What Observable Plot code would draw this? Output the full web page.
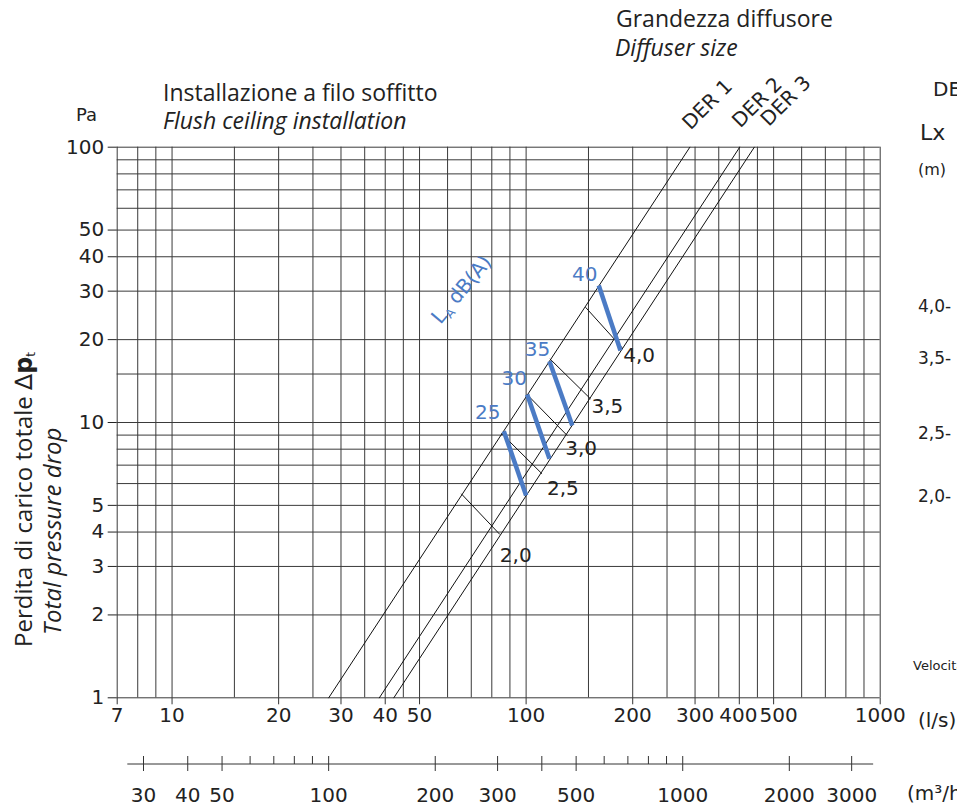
<!DOCTYPE html>
<html>
<head>
<meta charset="utf-8">
<script src="https://cdn.jsdelivr.net/npm/d3@7"></script>
<script src="https://cdn.jsdelivr.net/npm/@observablehq/plot@0.6"></script>
<style>
  html, body { margin: 0; padding: 0; background: white; }
  #chart { width: 957px; height: 809px; overflow: hidden; }
</style>
</head>
<body>
<div id="chart"></div>
<script>
// ---- data ----
const xGrid = [7,8,9,10,15,20,25,30,35,40,45,50,60,70,80,90,100,150,200,250,300,350,400,450,500,600,700,800,900,1000];
const yGrid = [1,2,3,4,5,6,7,8,9,10,15,20,30,40,50,60,70,80,90,100];
const xTicks = [7,10,20,30,40,50,100,200,300,400,500,1000];
const yTicks = [1,2,3,4,5,10,20,30,40,50,100];

const m3hMajor = [30,40,50,100,200,300,400,500,1000,2000,3000];
const m3hMinor = [60,70,80,90,600,700,800,900];
const m3hLabels = [30,40,50,100,200,300,500,1000,2000,3000];
const m3hAxisRange = [27, 3450];

const derNames = ["DER 1","DER 2","DER 3"];
const derQat1Pa = [27.7, 38.5, 42.3];      // l/s at 1 Pa
const derQat100Pa = [290, 401, 441];       // l/s at 100 Pa

const throwLabels = ["2,0","2,5","3,0","3,5","4,0"];
const throwStartQ = [65.6, 85.2, 100.6, 116.7, 147.1];
const throwStartP = [5.51, 9.12, 12.64, 17.03, 26.23];
const throwEndQ   = [84.3, 110.9, 130.6, 152.0, 186.8];
const throwEndP   = [3.92, 6.51, 8.97, 12.19, 18.67];

const noiseLevels = [25, 30, 35, 40];
const noiseStartQ = [86.5, 100.7, 116.4, 160.4];
const noiseStartP = [9.30, 12.64, 16.70, 31.45];
const noiseEndQ   = [100.0, 116.4, 135.0, 184.7];
const noiseEndP   = [5.43, 7.38, 9.75, 18.26];

const laLabelAt = {q: 57.5, p: 22.5};

// ---- tables ----
const derRows = derNames.flatMap((n, i) => [
  {name: n, q: derQat1Pa[i], p: 1},
  {name: n, q: derQat100Pa[i], p: 100}
]);
const throwRows = throwLabels.map((t, i) => ({t, q1: throwStartQ[i], p1: throwStartP[i], q2: throwEndQ[i], p2: throwEndP[i]}));
const noiseRows = noiseLevels.map((n, i) => ({n, q1: noiseStartQ[i], p1: noiseStartP[i], q2: noiseEndQ[i], p2: noiseEndP[i]}));

const BLUE = "#4b7bc5";
const INK = "#222";
const FRAME_H = 809 - 146.7 - 111.7;

// label offsets (screen px)
const throwDx = [0, 5, -2, 1, 1];
const throwDy = [21, 15, 13, 8, 8];
const noiseDx = [-16, -13, -12, -14];
const noiseDy = [-19, -16, -12, -11];
const derDx = [-4, -4, 10];
const derDy = [-21, -23, -24.5];
const xLabelDx = v => (v === 500 ? 5 : v === 400 ? -1 : 0);

const marks = [
  Plot.ruleX(xGrid, {stroke: "#3a3a3a", strokeWidth: 1}),
  Plot.ruleY(yGrid, {stroke: "#3a3a3a", strokeWidth: 1}),
  // x axis (l/s): ticks below the frame
  Plot.ruleX(xTicks, {insetTop: FRAME_H, insetBottom: -7, stroke: "#333"}),
  Plot.axisY(yTicks, {tickSize: 9, tickPadding: 4, tickFormat: d => String(d), label: null, fontSize: 20, fill: INK}),
  Plot.line(derRows, {x: "q", y: "p", z: "name", stroke: "#111", strokeWidth: 1}),
  Plot.link(throwRows, {x1: "q1", y1: "p1", x2: "q2", y2: "p2", stroke: "#111", strokeWidth: 1}),
  Plot.link(noiseRows, {x1: "q1", y1: "p1", x2: "q2", y2: "p2", stroke: BLUE, strokeWidth: 4.5})
];
// x tick labels
xTicks.forEach(v => {
  marks.push(Plot.text([v], {x: d => d, text: d => String(d), frameAnchor: "bottom", dy: 24, dx: xLabelDx(v), fontSize: 20, fill: INK}));
});
throwRows.forEach((r, i) => {
  marks.push(Plot.text([r], {x: "q2", y: "p2", text: "t", textAnchor: "start", dx: throwDx[i], dy: throwDy[i], fontSize: 20, fill: INK}));
});
noiseRows.forEach((r, i) => {
  marks.push(Plot.text([r], {x: "q1", y: "p1", text: d => String(d.n), dx: noiseDx[i], dy: noiseDy[i], fontSize: 20, fill: BLUE}));
});
derNames.forEach((n, i) => {
  marks.push(Plot.text([{n, q: derQat100Pa[i], p: 100}], {x: "q", y: "p", text: "n", rotate: -45, textAnchor: "start", dx: derDx[i], dy: derDy[i], fontSize: 20, fill: INK}));
});

const plot = Plot.plot({
  width: 957,
  height: 809,
  marginLeft: 116.7,
  marginRight: 77.3,
  marginTop: 146.7,
  marginBottom: 111.7,
  x: {type: "log", domain: [7, 1000], label: null, axis: null},
  y: {type: "log", domain: [1, 100], label: null},
  style: {fontFamily: "DejaVu Sans", fontSize: "20px", color: INK, background: "white"},
  marks
});

document.getElementById("chart").appendChild(plot);

// ---- secondary m3/h axis, titles and labels ----
const svg = d3.select(plot);
const xs = plot.scale("x");
const ys = plot.scale("y");
const X = v => xs.apply(v);
const Y = v => ys.apply(v);
const m3 = v => X(v / 3.6);

const ax = svg.append("g").attr("stroke", "#333").attr("stroke-width", 1);
const axisY = 764;
ax.append("line").attr("x1", m3(m3hAxisRange[0])).attr("x2", m3(m3hAxisRange[1])).attr("y1", axisY).attr("y2", axisY);
m3hMajor.forEach(v => ax.append("line").attr("x1", m3(v)).attr("x2", m3(v)).attr("y1", axisY - 8).attr("y2", axisY + 7));
m3hMinor.forEach(v => ax.append("line").attr("x1", m3(v)).attr("x2", m3(v)).attr("y1", axisY - 8).attr("y2", axisY));
const lab = svg.append("g").attr("font-family", "DejaVu Sans").attr("font-size", 20).attr("fill", INK).attr("text-anchor", "middle");
m3hLabels.forEach(v => lab.append("text").attr("x", m3(v)).attr("y", 801.5).text(String(v)));

const tg = svg.append("g").attr("text-anchor", "start");
function txt(x, y, s, opts = {}) {
  const t = tg.append("text").attr("x", x).attr("y", y)
    .attr("font-family", opts.family || "Open Sans")
    .attr("font-size", opts.size || 23)
    .attr("fill", opts.fill || INK)
    .text(s);
  if (opts.italic) t.attr("font-style", "italic");
  return t;
}

txt(918, 727, "(l/s)", {family: "DejaVu Sans", size: 20});
txt(907, 800, "(m³/h)", {family: "DejaVu Sans", size: 20});
txt(76, 121, "Pa", {family: "DejaVu Sans", size: 18});

txt(163, 100.7, "Installazione a filo soffitto");
txt(163, 129, "Flush ceiling installation", {italic: true});
txt(616, 26.5, "Grandezza diffusore");
txt(615, 56, "Diffuser size", {italic: true});

// Y title
const yt = tg.append("text").attr("transform", "translate(32,647) rotate(-90)")
  .attr("font-family", "Open Sans").attr("font-size", 24).attr("fill", INK);
yt.append("tspan").text("Perdita di carico totale ");
yt.append("tspan").attr("font-family", "DejaVu Sans").text("∆");
yt.append("tspan").attr("font-family", "DejaVu Sans").attr("font-weight", "bold").text("p");
yt.append("tspan").attr("font-size", 12).attr("dy", 3).attr("font-family", "DejaVu Sans").text("t");
tg.append("text").attr("transform", "translate(61,635) rotate(-90)")
  .attr("font-family", "Open Sans").attr("font-size", 24).attr("font-style", "italic").attr("fill", INK)
  .text("Total pressure drop");

// L_A dB(A)
const la = tg.append("text")
  .attr("transform", `translate(${X(laLabelAt.q)},${Y(laLabelAt.p)}) rotate(-50)`)
  .attr("font-family", "DejaVu Sans").attr("font-size", 20).attr("fill", BLUE);
la.append("tspan").text("L");
la.append("tspan").attr("font-size", 12).attr("dy", 4).text("A");
la.append("tspan").attr("dy", -4).text(" dB(A)");

// clipped labels of the neighbouring chart
txt(933, 96, "DER", {family: "DejaVu Sans", size: 20});
txt(920, 140, "Lx", {family: "DejaVu Sans", size: 22});
txt(918, 175, "(m)", {family: "DejaVu Sans", size: 16});
[["4,0-", 312], ["3,5-", 364], ["2,5-", 439], ["2,0-", 502]].forEach(([s, y]) => txt(918, y, s, {family: "DejaVu Sans", size: 17}));
txt(913, 670, "Velocità", {family: "DejaVu Sans", size: 13});
</script>
</body>
</html>
